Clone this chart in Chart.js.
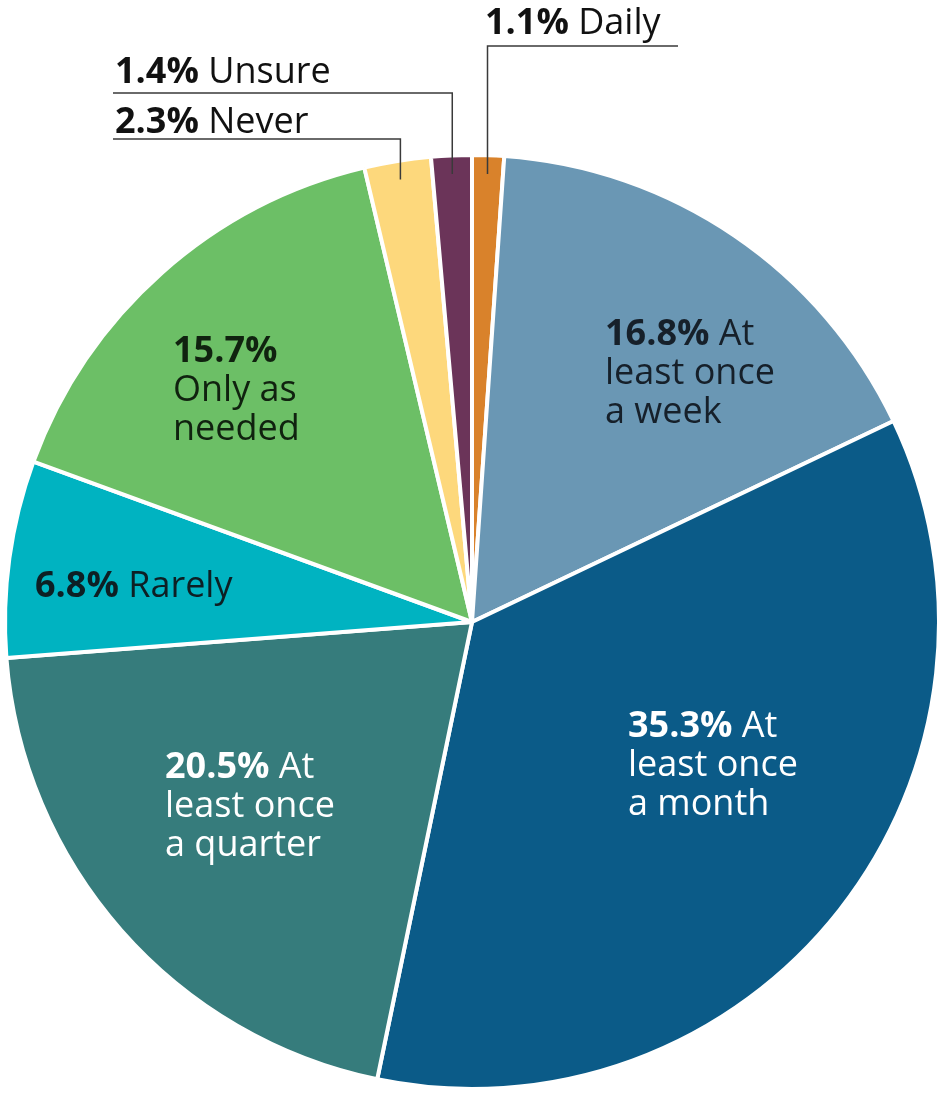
<!DOCTYPE html>
<html>
<head>
<meta charset="utf-8">
<title>How often respondents use the service</title>
<script src="https://cdn.jsdelivr.net/npm/chart.js@4.4.1/dist/chart.umd.min.js"></script>
<style>
  html, body { margin: 0; padding: 0; background: #ffffff; }
  canvas { display: block; }
</style>
</head>
<body>
<canvas id="pie" width="944" height="1095"></canvas>
<script>
// Slices in drawing order, clockwise from 12 o'clock
const categories = [
  'Daily',
  'At least once a week',
  'At least once a month',
  'At least once a quarter',
  'Rarely',
  'Only as needed',
  'Never',
  'Unsure'
];
const shares = [1.1, 16.8, 35.3, 20.5, 6.8, 15.7, 2.3, 1.4];
const sliceColors = [
  '#D9822B', '#6A97B4', '#0B5B88', '#367C7C',
  '#00B3C1', '#6CBF66', '#FDD87C', '#6B3459'
];

// How each category name is wrapped after its bold percentage
const labelLines = [
  [' Daily'],
  [' At', 'least once', 'a week'],
  [' At', 'least once', 'a month'],
  [' At', 'least once', 'a quarter'],
  [' Rarely'],
  ['', 'Only as', 'needed'],
  [' Never'],
  [' Unsure']
];

const FONT = '"Open Sans", "Noto Sans", sans-serif';
const FONT_SIZE = 36;
const LINE_HEIGHT = 39;

// Label placement, in pixels relative to the pie centre.
// 'inside': text block left edge + first baseline.
// 'leader': text left/baseline, elbow line height and far end of the horizontal run.
const labelLayout = [
  { kind: 'leader', tx: 13, ty: -588, ly: -576, lx: 206, color: '#111111' },
  { kind: 'inside', tx: 133, ty: -277, color: '#16202a' },
  { kind: 'inside', tx: 156, ty: 115, color: '#ffffff' },
  { kind: 'inside', tx: -307, ty: 156, color: '#ffffff' },
  { kind: 'inside', tx: -437, ty: -25, color: '#0d1f24' },
  { kind: 'inside', tx: -299, ty: -260, color: '#10220f' },
  { kind: 'leader', tx: -357, ty: -489, ly: -483, lx: -359, color: '#111111' },
  { kind: 'leader', tx: -357, ty: -539, ly: -529, lx: -359, color: '#111111' }
];

function drawLabelLine(ctx, x, y, bold, rest, color) {
  ctx.fillStyle = color;
  let cx = x;
  if (bold) {
    ctx.font = `bold ${FONT_SIZE}px ${FONT}`;
    ctx.fillText(bold, cx, y);
    cx += ctx.measureText(bold).width;
  }
  if (rest) {
    ctx.font = `${FONT_SIZE}px ${FONT}`;
    ctx.fillText(rest, cx, y);
  }
}

const sliceLabels = {
  id: 'sliceLabels',
  afterDatasetsDraw(chart) {
    const ctx = chart.ctx;
    const meta = chart.getDatasetMeta(0);
    ctx.save();
    ctx.textBaseline = 'alphabetic';
    ctx.textAlign = 'left';
    meta.data.forEach((arc, i) => {
      const lay = labelLayout[i];
      const cx = arc.x, cy = arc.y, r = arc.outerRadius;
      const pct = shares[i].toFixed(1) + '%';
      const lines = labelLines[i];
      const tx = cx + lay.tx, ty = cy + lay.ty;

      if (lay.kind === 'leader') {
        const mid = (arc.startAngle + arc.endAngle) / 2;
        const px = cx + Math.cos(mid) * r * 0.96;
        const py = cy + Math.sin(mid) * r * 0.96;
        const ly = cy + lay.ly;
        ctx.strokeStyle = '#3a3a3a';
        ctx.lineWidth = 1.5;
        ctx.beginPath();
        ctx.moveTo(px, py);
        ctx.lineTo(px, ly);
        ctx.lineTo(cx + lay.lx, ly);
        ctx.stroke();
      }

      lines.forEach((text, k) => {
        const y = ty + k * LINE_HEIGHT;
        if (k === 0) drawLabelLine(ctx, tx, y, pct, text, lay.color);
        else drawLabelLine(ctx, tx, y, null, text, lay.color);
      });
    });
    ctx.restore();
  }
};

function build() {
  new Chart(document.getElementById('pie'), {
    type: 'pie',
    data: {
      labels: categories,
      datasets: [{
        data: shares,
        backgroundColor: sliceColors,
        borderColor: '#ffffff',
        borderWidth: 4
      }]
    },
    options: {
      responsive: false,
      animation: false,
      devicePixelRatio: 1,
      layout: { padding: { left: 3, right: 3, top: 153, bottom: 4 } },
      plugins: {
        legend: { display: false },
        tooltip: { enabled: false }
      }
    },
    plugins: [sliceLabels]
  });
}

Promise.all([
  document.fonts.load(`bold ${FONT_SIZE}px "Open Sans"`),
  document.fonts.load(`${FONT_SIZE}px "Open Sans"`)
]).then(build, build);
</script>
</body>
</html>
